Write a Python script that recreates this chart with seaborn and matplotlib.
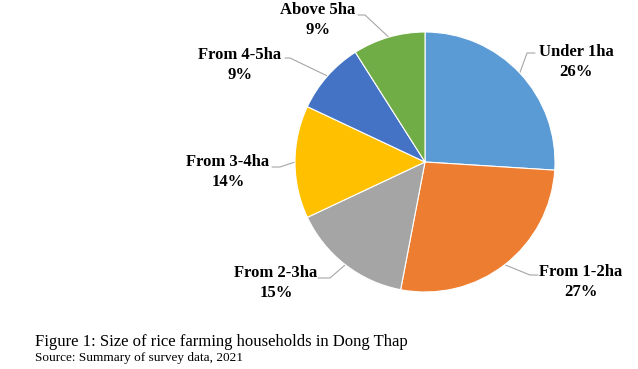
import numpy as np
import matplotlib
matplotlib.use("Agg")
import matplotlib.pyplot as plt
import seaborn as sns

# data
categories = ["Under 1ha", "From 1-2ha", "From 2-3ha", "From 3-4ha", "From 4-5ha", "Above 5ha"]
shares = [26, 27, 15, 14, 9, 9]
colors = ["#5B9BD5", "#ED7D31", "#A5A5A5", "#FFC000", "#4472C4", "#70AD47"]

title = "Figure 1: Size of rice farming households in Dong Thap"
source = "Source: Summary of survey data, 2021"

sns.set_theme(style="white")
plt.rcParams["font.family"] = ["Liberation Serif", "DejaVu Serif"]

W, H = 638, 369
fig = plt.figure(figsize=(W / 100, H / 100), dpi=100)
ax = fig.add_axes([0, 0, 1, 1])

# pie placed in pixel coordinates (y up)
cx, cy, r = 425, H - 162, 130
wedges, _ = ax.pie(shares, colors=colors, startangle=90, counterclock=False,
                   center=(cx, cy), radius=r, frame=True,
                   wedgeprops=dict(edgecolor="white", linewidth=0.8))
ax.set_xlim(0, W)
ax.set_ylim(0, H)
ax.set_aspect("equal")
ax.axis("off")

# label layout: text centre (x, y), knee of leader, end of leader (pixels, y down)
label_pos = [(576, 62), (581, 282), (276, 283), (228, 172), (240, 65), (318, 20)]
knees = [(527, 53), (530, 275), (330, 278), (280, 167), (290, 58), (365, 15)]
ends = [(535, 53), (538, 275), (318, 278), (272, 167), (285, 58), (358, 15)]

for w, cat, val, (tx, ty), (kx, ky), (ex, ey) in zip(wedges, categories, shares, label_pos, knees, ends):
    ang = np.deg2rad((w.theta1 + w.theta2) / 2)
    px = cx + r * np.cos(ang)
    py = cy + r * np.sin(ang)
    ax.plot([px, kx, ex], [py, H - ky, H - ey], color="#A6A6A6", lw=0.8, zorder=0.5)
    ax.text(tx, H - ty, f"{cat}\n{val}%", ha="center", va="center",
            fontsize=12, fontweight="bold", linespacing=1.35, color="black")

fig.text(35 / W, 1 - 342 / H, title, ha="left", va="center", fontsize=12, color="black")
fig.text(35 / W, 1 - 358 / H, source, ha="left", va="center", fontsize=9.5, color="black")

fig.savefig("out.png", dpi=100, facecolor="white")
